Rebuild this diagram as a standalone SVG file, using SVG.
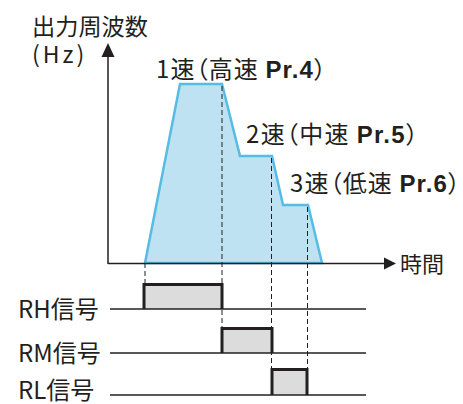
<svg xmlns="http://www.w3.org/2000/svg" width="463" height="404" viewBox="0 0 463 404">
<style>
text{font-family:"Noto Sans CJK JP","Noto Sans",sans-serif;fill:#231f20;font-feature-settings:"palt"}
.b{font-family:"Liberation Sans","Noto Sans",sans-serif;font-weight:bold}
.ax{stroke:#231f20;stroke-width:1.5;fill:none}
.dash{stroke:#231f20;stroke-width:1;stroke-dasharray:5 3;fill:none}
.base{stroke:#231f20;stroke-width:1.5;fill:none}
.pulse{stroke:#231f20;stroke-width:3;fill:none;stroke-linejoin:miter}
.on{fill:#dcdcdc;stroke:none}
</style>
<rect width="463" height="404" fill="#fff"/>
<g id="labels">
<text x="32" y="35" font-size="23" textLength="116" lengthAdjust="spacingAndGlyphs">出力周波数</text>
<text x="32" y="63" font-size="23" letter-spacing="3">(Hz)</text>
<text x="156" y="78" font-size="24" textLength="170">1速（高速 <tspan class="b">Pr.4</tspan>）</text>
<text x="246" y="143" font-size="24" textLength="172">2速（中速 <tspan class="b">Pr.5</tspan>）</text>
<text x="290" y="192" font-size="24" textLength="170">3速（低速 <tspan class="b">Pr.6</tspan>）</text>
<text x="400" y="272" font-size="22">時間</text>
</g>
<g id="freq">
<polygon points="145,263 180,84 222,84 240,156 272,156 283,205 308,205 322,263" fill="#bfe2f3" stroke="#56bce4" stroke-width="2.5" stroke-linejoin="miter"/>
</g>
<g id="axes">
<line class="ax" x1="108" y1="264" x2="108" y2="56"/>
<polygon points="108,43 101.5,57 114.5,57" fill="#231f20"/>
<line class="ax" x1="108" y1="263.5" x2="385" y2="263.5"/>
<polygon points="396,263.5 384,257.5 384,269.5" fill="#231f20"/>
</g>
<g id="connectors">
<line class="dash" x1="145" y1="263" x2="145" y2="284"/>
<line class="dash" x1="222" y1="86" x2="222" y2="328"/>
<line class="dash" x1="271.5" y1="158" x2="271.5" y2="369"/>
<line class="dash" x1="307.5" y1="207" x2="307.5" y2="369"/>
</g>
<g id="RH">
<rect class="on" x="144" y="284" width="78" height="25"/>
<line class="base" x1="110" y1="309" x2="366" y2="309"/>
<path class="pulse" d="M144,309 V284.5 H222 V309"/>
<text x="18" y="318" font-size="24">RH信号</text>
</g>
<g id="RM">
<rect class="on" x="222" y="328" width="50" height="25"/>
<line class="base" x1="110" y1="353" x2="366" y2="353"/>
<path class="pulse" d="M222,353 V328.5 H272 V353"/>
<text x="18" y="362" font-size="24">RM信号</text>
</g>
<g id="RL">
<rect class="on" x="272" y="369" width="35" height="26"/>
<line class="base" x1="110" y1="395" x2="366" y2="395"/>
<path class="pulse" d="M272,395 V369.5 H307 V395"/>
<text x="18" y="399" font-size="24">RL信号</text>
</g>
</svg>
